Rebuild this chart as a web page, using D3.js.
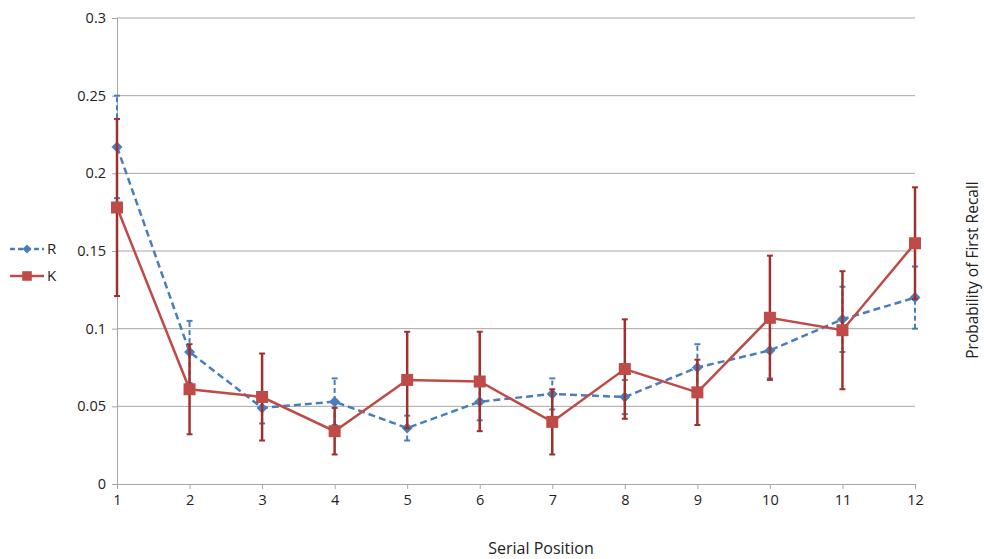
<!DOCTYPE html>
<html>
<head>
<meta charset="utf-8">
<script src="https://cdn.jsdelivr.net/npm/d3@7"></script>
<style>
  body { margin: 0; background: #fff; }
  svg text { font-family: "Open Sans", "Liberation Sans", sans-serif; fill: #222; }
</style>
</head>
<body>
<div id="chart"></div>
<script>
// serial positions and series values
var positions = [1, 2, 3, 4, 5, 6, 7, 8, 9, 10, 11, 12];
var rMean = [0.217, 0.085, 0.049, 0.053, 0.036, 0.053, 0.058, 0.056, 0.075, 0.086, 0.106, 0.120];
var rErr  = [0.033, 0.020, 0.010, 0.015, 0.008, 0.012, 0.010, 0.011, 0.015, 0.018, 0.021, 0.020];
var kMean = [0.178, 0.061, 0.056, 0.034, 0.067, 0.066, 0.040, 0.074, 0.059, 0.107, 0.099, 0.155];
var kErr  = [0.057, 0.029, 0.028, 0.015, 0.031, 0.032, 0.021, 0.032, 0.021, 0.040, 0.038, 0.036];
var yTicks = [0, 0.05, 0.1, 0.15, 0.2, 0.25, 0.3];
var yTickLabels = ["0", "0.05", "0.1", "0.15", "0.2", "0.25", "0.3"];

var W = 984, H = 559;
var margin = {top: 18, right: 69, bottom: 75, left: 117};
var width = W - margin.left - margin.right,
    height = H - margin.top - margin.bottom;

var blue = "#4a7ebb", red = "#be4b48", redDark = "#a0302c";

var svg = d3.select("#chart").append("svg")
    .attr("width", W)
    .attr("height", H);

var g = svg.append("g")
    .attr("transform", "translate(" + margin.left + "," + margin.top + ")");

var x = d3.scaleLinear().domain([1, 12]).range([0, width]);
var y = d3.scaleLinear().domain([0, 0.3]).range([height, 0]);

// gridlines
g.selectAll(".grid")
  .data(yTicks.slice(1))
  .enter().append("line")
    .attr("x1", 0).attr("x2", width)
    .attr("y1", function(d) { return y(d); })
    .attr("y2", function(d) { return y(d); })
    .attr("stroke", "#a6a6a6")
    .attr("stroke-width", 1);

// Y axis
var yAxis = g.append("g")
  .call(d3.axisLeft(y).tickValues(yTicks)
    .tickFormat(function(d, i) { return yTickLabels[i]; })
    .tickSize(5).tickPadding(6).tickSizeOuter(0));
yAxis.select(".domain").attr("stroke", "#a6a6a6");
yAxis.selectAll(".tick line").attr("stroke", "#a6a6a6");
yAxis.selectAll("text").style("font-size", "14.5px").attr("fill", "#222");

// X axis
var xAxis = g.append("g")
  .attr("transform", "translate(0," + height + ")")
  .call(d3.axisBottom(x).tickValues(positions).tickFormat(d3.format("d"))
    .tickSize(5).tickPadding(6).tickSizeOuter(0));
xAxis.select(".domain").attr("stroke", "#a6a6a6");
xAxis.selectAll(".tick line").attr("stroke", "#a6a6a6");
xAxis.selectAll("text").style("font-size", "14.5px").attr("fill", "#222");

function drawSeries(mean, err, color, barColor, dashed, marker) {
  var pts = positions.map(function(p, i) { return {p: p, m: mean[i], e: err[i]}; });
  var s = g.append("g");

  // error bars
  s.selectAll(".bar")
    .data(pts).enter().append("line")
      .attr("x1", function(d) { return x(d.p); })
      .attr("x2", function(d) { return x(d.p); })
      .attr("y1", function(d) { return y(d.m - d.e); })
      .attr("y2", function(d) { return y(d.m + d.e); })
      .attr("stroke", barColor)
      .attr("stroke-width", dashed ? 2 : 2.5)
      .attr("stroke-dasharray", dashed ? "5,3" : null);
  [-1, 1].forEach(function(sgn) {
    s.selectAll(".cap")
      .data(pts).enter().append("line")
        .attr("x1", function(d) { return x(d.p) - 3; })
        .attr("x2", function(d) { return x(d.p) + 3; })
        .attr("y1", function(d) { return y(d.m + sgn * d.e); })
        .attr("y2", function(d) { return y(d.m + sgn * d.e); })
        .attr("stroke", barColor)
        .attr("stroke-width", 2);
  });

  var line = d3.line()
    .x(function(d) { return x(d.p); })
    .y(function(d) { return y(d.m); });
  s.append("path")
    .datum(pts)
    .attr("d", line)
    .attr("fill", "none")
    .attr("stroke", color)
    .attr("stroke-width", 2.5)
    .attr("stroke-dasharray", dashed ? "7,4" : null);

  s.selectAll(".pt")
    .data(pts).enter().append("path")
      .attr("transform", function(d) { return "translate(" + x(d.p) + "," + y(d.m) + ")"; })
      .attr("d", marker)
      .attr("fill", color);
}

var diamond = "M0,-5.5L5.5,0L0,5.5L-5.5,0Z";
var square = "M-6,-6H6V6H-6Z";

drawSeries(rMean, rErr, blue, blue, true, diamond);
drawSeries(kMean, kErr, red, redDark, false, square);

// legend
var legend = svg.append("g").attr("transform", "translate(10,0)");
var legendItems = [
  {name: "R", color: blue, dashed: true, marker: diamond, y: 249},
  {name: "K", color: red, dashed: false, marker: square, y: 276}
];
legendItems.forEach(function(it) {
  legend.append("line")
    .attr("x1", 0).attr("x2", 34)
    .attr("y1", it.y).attr("y2", it.y)
    .attr("stroke", it.color)
    .attr("stroke-width", 2.5)
    .attr("stroke-dasharray", it.dashed ? "5,3" : null);
  legend.append("path")
    .attr("transform", "translate(17," + it.y + ") scale(0.8)")
    .attr("d", it.marker)
    .attr("fill", it.color);
  legend.append("text")
    .attr("x", 37).attr("y", it.y)
    .attr("dy", "0.35em")
    .style("font-size", "15px")
    .text(it.name);
});

// axis titles
svg.append("text")
  .attr("x", 541).attr("y", 554)
  .attr("text-anchor", "middle")
  .style("font-size", "16px")
  .text("Serial Position");

svg.append("text")
  .attr("transform", "translate(978,270) rotate(-90)")
  .attr("text-anchor", "middle")
  .style("font-size", "15.5px")
  .text("Probability of First Recall");
</script>
</body>
</html>
